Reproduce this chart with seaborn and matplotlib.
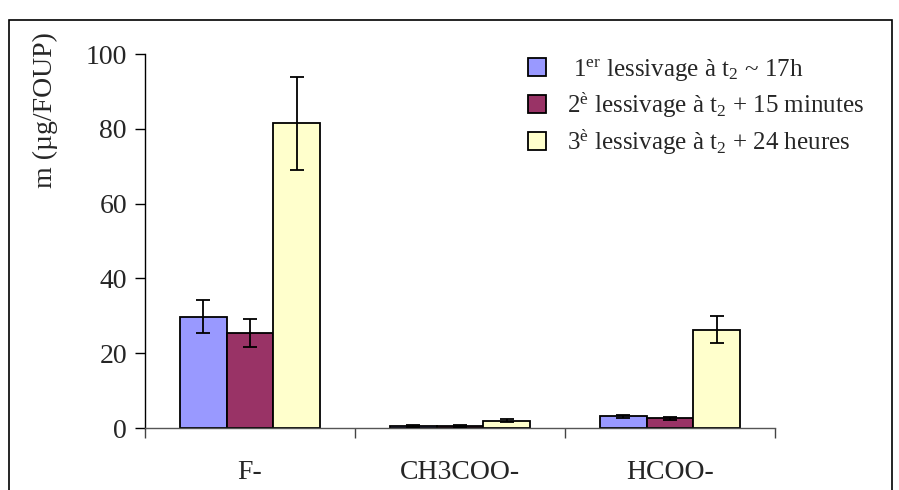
import numpy as np
import pandas as pd
import matplotlib
matplotlib.use("Agg")
import matplotlib.pyplot as plt
import seaborn as sns
from matplotlib.patches import Rectangle

# ------------------------
# Data
# ------------------------
ions = ["F-", "CH3COO-", "HCOO-"]
series = [
    " 1$^{\\mathrm{er}}$ lessivage à t$_{2}$ ~ 17h",
    "2$^{\\mathrm{è}}$ lessivage à t$_{2}$ + 15 minutes",
    "3$^{\\mathrm{è}}$ lessivage à t$_{2}$ + 24 heures",
]
lavage1 = [29.8, 0.5, 3.1]
lavage2 = [25.4, 0.5, 2.6]
lavage3 = [81.5, 2.0, 26.3]
err1 = [4.5, 0.2, 0.5]
err2 = [3.7, 0.2, 0.4]
err3 = [12.4, 0.5, 3.7]
colors = ["#9999FF", "#993366", "#FFFFCC"]

values = [lavage1, lavage2, lavage3]
errors = [err1, err2, err3]
df = pd.DataFrame({
    "ion": ions * 3,
    "serie": [s for s in series for _ in ions],
    "m": [v for vals in values for v in vals],
})

# ------------------------
# Style
# ------------------------
sns.set_style("white")
plt.rcParams["font.family"] = ["Liberation Serif", "DejaVu Serif"]
plt.rcParams["mathtext.fontset"] = "custom"
plt.rcParams["mathtext.rm"] = "Liberation Serif"
plt.rcParams["mathtext.it"] = "Liberation Serif:italic"

fig = plt.figure(figsize=(8.99, 4.9), dpi=100)
ax = fig.add_axes([145 / 899, 1 - 428 / 490, 630 / 899, 374 / 490])

sns.barplot(data=df, x="ion", y="m", hue="serie", order=ions,
            hue_order=series, palette=colors, width=2 / 3,
            edgecolor="black", linewidth=1.3, saturation=1,
            errorbar=None, ax=ax)

# error bars on each bar
for cont, errs in zip(ax.containers, errors):
    xs = [b.get_x() + b.get_width() / 2 for b in cont]
    hs = [b.get_height() for b in cont]
    ax.errorbar(xs, hs, yerr=errs, fmt="none", ecolor="black",
                elinewidth=1.3, capsize=4.7, capthick=1.3, zorder=5)

ax.set_ylim(0, 100)
ax.set_xlim(-0.5, 2.5)
ax.set_yticks([0, 20, 40, 60, 80, 100])
ax.tick_params(axis="y", labelsize=20, direction="out", length=7,
               width=1, color="black", pad=6, left=True)

# category labels between boundary ticks
ax.set_xticks([-0.5, 0.5, 1.5, 2.5])
ax.set_xticklabels([])
ax.set_xticks([0, 1, 2], minor=True)
ax.set_xticklabels(ions, minor=True, fontsize=20)
ax.tick_params(axis="x", which="major", direction="out", length=7,
               width=1, color="#444444", bottom=True)
ax.tick_params(axis="x", which="minor", length=0, pad=23)
ax.set_xlabel("")
ax.set_ylabel("")

for s in ["top", "right"]:
    ax.spines[s].set_visible(False)
ax.spines["left"].set_color("black")
ax.spines["bottom"].set_color("#555555")
ax.spines["left"].set_linewidth(1)
ax.spines["bottom"].set_linewidth(1)

fig.text(45 / 899, 1 - 110 / 490, "m (µg/FOUP)", rotation=90,
         ha="center", va="center", fontsize=20)

# legend
ax.get_legend().remove()
handles = [Rectangle((0, 0), 1, 1, facecolor=c, edgecolor="black", lw=1.3)
           for c in colors]
fig.legend(handles, series, loc="upper left",
           bbox_to_anchor=(528 / 899, 1 - 57 / 490), frameon=False,
           fontsize=18, handlelength=0.72, handleheight=0.72,
           handletextpad=0.85, labelspacing=0.3, borderpad=0,
           borderaxespad=0)

# outer chart frame
fig.patches.append(Rectangle((9 / 899, -0.1), 883 / 899, 1.08 - 10 / 490,
                             transform=fig.transFigure, fill=False,
                             edgecolor="black", lw=1.2, clip_on=False))

plt.savefig("out.png", dpi=100)
